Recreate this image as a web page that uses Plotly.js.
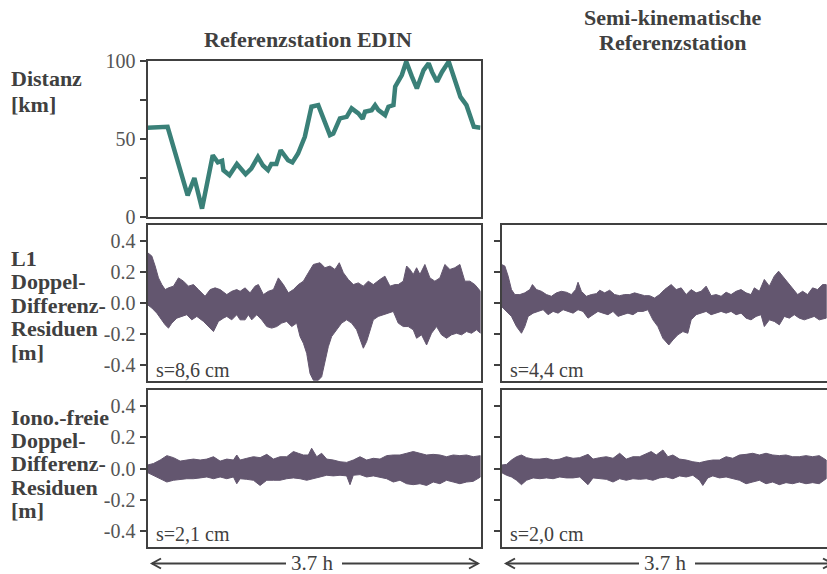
<!DOCTYPE html>
<html>
<head>
<meta charset="utf-8">
<script src="https://cdn.plot.ly/plotly-3.0.1.min.js"></script>
<style>html,body{margin:0;padding:0;background:#fff}#chart{width:827px;height:574px}</style>
</head>
<body>
<div id="chart"></div>
<script>
// ---------- DATA ----------
// Distance to reference station EDIN (time in hours, distance in km)
const distT  = [0,0.223,0.446,0.521,0.606,0.725,0.781,0.829,0.844,0.911,0.993,1.090,1.153,1.227,1.283,1.339,1.376,1.432,1.480,1.562,1.610,1.673,1.748,1.822,1.897,2.027,2.064,2.138,2.213,2.268,2.343,2.391,2.417,2.491,2.529,2.566,2.640,2.677,2.733,2.752,2.826,2.875,2.938,2.993,3.068,3.124,3.161,3.217,3.272,3.347,3.440,3.477,3.544,3.626,3.700];
const distKm = [57.2,57.8,13.9,25,5.4,39.6,35,36,30,26.8,34,27.4,31,38.5,33,30,34,34,42.8,36.4,35,40.7,51.4,70.7,71.7,52.5,53.5,63.2,64.2,69.6,66.4,63,67.5,68.5,71.7,68.5,65.3,70.7,71.7,83.5,91,99.6,90,82.4,94.2,98.5,93,86.7,93,99.6,83.5,77,71.7,57.8,57.2];

// L1 residuals, EDIN: upper and lower envelope (m)
const l1EdinUpT = [0,0.048,0.085,0.122,0.159,0.196,0.233,0.289,0.344,0.400,0.455,0.511,0.566,0.640,0.696,0.751,0.807,0.881,0.936,0.992,1.029,1.084,1.140,1.195,1.232,1.288,1.343,1.399,1.454,1.510,1.565,1.621,1.676,1.732,1.787,1.843,1.917,1.972,2.028,2.083,2.131,2.176,2.231,2.287,2.342,2.398,2.453,2.509,2.583,2.638,2.694,2.749,2.786,2.842,2.879,2.916,2.953,2.990,3.027,3.082,3.138,3.193,3.249,3.304,3.360,3.415,3.471,3.526,3.582,3.637,3.700];
const l1EdinUp  = [0.323,0.301,0.237,0.161,0.118,0.086,0.097,0.108,0.161,0.140,0.108,0.118,0.086,0.043,0.086,0.097,0.086,0.054,0.075,0.086,0.075,0.097,0.065,0.108,0.118,0.054,0.075,0.086,0.161,0.118,0.065,0.086,0.118,0.140,0.194,0.247,0.258,0.226,0.237,0.215,0.258,0.194,0.151,0.118,0.129,0.108,0.140,0.118,0.151,0.172,0.108,0.118,0.118,0.140,0.237,0.215,0.183,0.226,0.183,0.247,0.161,0.140,0.161,0.247,0.215,0.226,0.247,0.140,0.140,0.118,0.075];
const l1EdinLoT = [0,0.048,0.104,0.141,0.196,0.233,0.270,0.326,0.381,0.437,0.492,0.548,0.622,0.677,0.733,0.788,0.844,0.881,0.936,0.992,1.029,1.084,1.121,1.158,1.214,1.269,1.325,1.380,1.436,1.491,1.547,1.602,1.658,1.695,1.732,1.769,1.806,1.843,1.898,1.935,1.972,2.009,2.046,2.102,2.157,2.213,2.268,2.324,2.361,2.398,2.435,2.472,2.509,2.564,2.620,2.675,2.731,2.786,2.842,2.897,2.953,2.990,3.045,3.101,3.156,3.212,3.267,3.323,3.378,3.434,3.489,3.545,3.600,3.656,3.700];
const l1EdinLo  = [-0.011,-0.032,-0.065,-0.097,-0.140,-0.161,-0.129,-0.097,-0.086,-0.075,-0.108,-0.086,-0.118,-0.151,-0.183,-0.118,-0.097,-0.086,-0.108,-0.075,-0.108,-0.108,-0.075,-0.108,-0.075,-0.108,-0.151,-0.161,-0.151,-0.129,-0.118,-0.151,-0.129,-0.215,-0.258,-0.323,-0.452,-0.495,-0.495,-0.473,-0.387,-0.280,-0.215,-0.172,-0.129,-0.108,-0.129,-0.172,-0.237,-0.290,-0.247,-0.172,-0.108,-0.086,-0.075,-0.065,-0.054,-0.129,-0.151,-0.151,-0.172,-0.226,-0.204,-0.269,-0.194,-0.151,-0.204,-0.226,-0.204,-0.194,-0.204,-0.183,-0.194,-0.172,-0.194];

// L1 residuals, semi-kinematic reference station
const l1SemiUpT = [0,0.037,0.074,0.111,0.148,0.204,0.259,0.315,0.344,0.389,0.444,0.500,0.555,0.611,0.666,0.722,0.777,0.825,0.851,0.888,0.944,0.999,1.055,1.092,1.147,1.203,1.258,1.314,1.369,1.425,1.480,1.536,1.591,1.647,1.702,1.758,1.813,1.887,1.943,1.998,2.054,2.109,2.165,2.220,2.276,2.331,2.387,2.442,2.498,2.553,2.609,2.664,2.720,2.775,2.812,2.868,2.923,2.979,3.034,3.082,3.127,3.182,3.238,3.293,3.349,3.404,3.460,3.515,3.571,3.611];
const l1SemiUp  = [0.247,0.237,0.172,0.086,0.054,0.054,0.065,0.086,0.118,0.086,0.075,0.054,0.043,0.065,0.075,0.069,0.054,0.086,0.133,0.075,0.043,0.054,0.060,0.082,0.065,0.082,0.054,0.047,0.054,0.054,0.065,0.054,0.047,0.047,0.032,0.054,0.086,0.118,0.086,0.097,0.054,0.086,0.065,0.075,0.108,0.047,0.054,0.043,0.069,0.054,0.075,0.086,0.065,0.054,0.097,0.075,0.151,0.108,0.172,0.204,0.172,0.129,0.086,0.054,0.075,0.054,0.097,0.086,0.118,0.118];
const l1SemiLoT = [0,0.056,0.111,0.167,0.222,0.259,0.296,0.352,0.407,0.463,0.518,0.574,0.629,0.685,0.740,0.796,0.851,0.907,0.962,1.018,1.073,1.129,1.184,1.240,1.295,1.351,1.406,1.462,1.517,1.573,1.628,1.684,1.739,1.795,1.861,1.906,1.961,2.017,2.072,2.109,2.165,2.220,2.276,2.331,2.387,2.442,2.498,2.553,2.609,2.664,2.720,2.775,2.831,2.886,2.923,2.979,3.034,3.090,3.145,3.201,3.256,3.312,3.367,3.423,3.478,3.534,3.611];
const l1SemiLo  = [-0.022,-0.054,-0.086,-0.151,-0.194,-0.151,-0.086,-0.065,-0.054,-0.043,-0.075,-0.054,-0.065,-0.043,-0.054,-0.065,-0.043,-0.054,-0.097,-0.075,-0.054,-0.065,-0.075,-0.054,-0.086,-0.075,-0.065,-0.075,-0.054,-0.054,-0.043,-0.108,-0.151,-0.226,-0.269,-0.237,-0.204,-0.183,-0.194,-0.108,-0.075,-0.065,-0.054,-0.075,-0.065,-0.054,-0.065,-0.054,-0.075,-0.065,-0.097,-0.108,-0.086,-0.075,-0.151,-0.108,-0.118,-0.140,-0.086,-0.097,-0.075,-0.097,-0.108,-0.097,-0.086,-0.108,-0.097];

// Iono-free residuals, EDIN
const ifEdinUpT = [0,0.067,0.141,0.215,0.289,0.363,0.437,0.511,0.585,0.659,0.733,0.807,0.881,0.955,0.992,1.029,1.103,1.177,1.251,1.325,1.399,1.473,1.547,1.621,1.676,1.732,1.787,1.824,1.880,1.935,1.991,2.065,2.139,2.213,2.287,2.361,2.435,2.509,2.583,2.657,2.731,2.805,2.879,2.953,3.027,3.101,3.175,3.249,3.323,3.397,3.471,3.545,3.619,3.700];
const ifEdinUp  = [0.022,0.032,0.054,0.082,0.069,0.047,0.054,0.060,0.054,0.060,0.075,0.047,0.060,0.054,0.086,0.054,0.065,0.075,0.069,0.090,0.060,0.075,0.075,0.108,0.097,0.086,0.086,0.129,0.075,0.097,0.060,0.054,0.043,0.039,0.054,0.075,0.054,0.065,0.060,0.082,0.086,0.086,0.097,0.108,0.097,0.086,0.090,0.086,0.075,0.086,0.082,0.086,0.075,0.082];
const ifEdinLoT = [0,0.067,0.141,0.215,0.289,0.363,0.437,0.511,0.585,0.659,0.733,0.807,0.881,0.955,0.992,1.029,1.103,1.177,1.251,1.325,1.399,1.473,1.547,1.621,1.695,1.769,1.843,1.917,1.991,2.065,2.139,2.213,2.250,2.287,2.361,2.435,2.509,2.583,2.657,2.731,2.805,2.879,2.953,3.027,3.101,3.175,3.249,3.323,3.397,3.471,3.545,3.619,3.700];
const ifEdinLo  = [-0.026,-0.043,-0.065,-0.086,-0.075,-0.069,-0.065,-0.065,-0.060,-0.054,-0.065,-0.054,-0.065,-0.054,-0.097,-0.065,-0.069,-0.075,-0.108,-0.075,-0.075,-0.075,-0.065,-0.060,-0.065,-0.075,-0.065,-0.054,-0.043,-0.047,-0.043,-0.047,-0.103,-0.043,-0.039,-0.054,-0.047,-0.054,-0.065,-0.086,-0.075,-0.097,-0.103,-0.097,-0.108,-0.086,-0.097,-0.075,-0.086,-0.097,-0.086,-0.082,-0.054];

// Iono-free residuals, semi-kinematic reference station
const ifSemiUpT = [0,0.056,0.111,0.167,0.222,0.278,0.352,0.426,0.500,0.574,0.648,0.722,0.796,0.870,0.962,1.018,1.092,1.166,1.240,1.314,1.388,1.462,1.536,1.610,1.665,1.721,1.795,1.850,1.906,1.980,2.054,2.128,2.202,2.276,2.350,2.424,2.498,2.572,2.646,2.720,2.794,2.868,2.942,3.016,3.090,3.164,3.238,3.312,3.386,3.460,3.534,3.611];
const ifSemiUp  = [0.022,0.026,0.054,0.075,0.086,0.069,0.060,0.060,0.065,0.054,0.060,0.075,0.065,0.069,0.090,0.060,0.069,0.075,0.065,0.097,0.060,0.075,0.075,0.097,0.108,0.086,0.118,0.075,0.086,0.060,0.054,0.043,0.037,0.047,0.054,0.054,0.075,0.065,0.086,0.090,0.097,0.086,0.097,0.086,0.082,0.086,0.075,0.075,0.082,0.075,0.082,0.054];
const ifSemiLoT = [0,0.056,0.111,0.167,0.222,0.278,0.352,0.426,0.500,0.574,0.648,0.722,0.796,0.870,0.962,1.018,1.092,1.166,1.240,1.314,1.388,1.462,1.536,1.610,1.684,1.758,1.832,1.906,1.980,2.054,2.128,2.202,2.239,2.294,2.350,2.424,2.498,2.572,2.646,2.720,2.794,2.868,2.942,3.016,3.090,3.164,3.238,3.312,3.386,3.460,3.534,3.611];
const ifSemiLo  = [-0.026,-0.043,-0.054,-0.075,-0.103,-0.075,-0.060,-0.065,-0.060,-0.065,-0.054,-0.060,-0.060,-0.054,-0.103,-0.060,-0.065,-0.069,-0.086,-0.065,-0.075,-0.065,-0.069,-0.065,-0.075,-0.060,-0.054,-0.065,-0.047,-0.054,-0.043,-0.075,-0.108,-0.060,-0.047,-0.060,-0.054,-0.065,-0.075,-0.097,-0.086,-0.075,-0.097,-0.086,-0.103,-0.090,-0.097,-0.086,-0.097,-0.090,-0.097,-0.065];

const resTickVals = [-0.4,-0.2,0,0.2,0.4];
const resTickText = ['-0.4','-0.2','0.0','0.2','0.4'];
const distTickVals = [0,25,50,75,100];
const distTickText = ['0','','50','','100'];
const sigmaLabels = ['s=8,6 cm','s=4,4 cm','s=2,1 cm','s=2,0 cm'];
const durationLabel = '3.7 h';
const colTitleLeft = ['Referenzstation EDIN'];
const colTitleRight = ['Semi-kinematische', 'Referenzstation'];
const rowLabelDist = ['Distanz', '[km]'];
const rowLabelL1 = ['L1', 'Doppel-', 'Differenz-', 'Residuen', '[m]'];
const rowLabelIF = ['Iono.-freie', 'Doppel-', 'Differenz-', 'Residuen', '[m]'];

// ---------- STYLE / LAYOUT ----------
const W = 827, H = 574;
const px = v => v / W;
const py = v => 1 - v / H;
const FONT = '"Liberation Serif", "Times New Roman", Times, serif';
const DARK = '#404040';
const TEAL = '#3a8078';
const PURPLE = '#63566f';

function band(tu, yu, tl, yl, xa, ya) {
  return {
    x: tu.concat(tl.slice().reverse()),
    y: yu.concat(yl.slice().reverse()),
    xaxis: xa, yaxis: ya, type: 'scatter', mode: 'lines',
    fill: 'toself', fillcolor: PURPLE,
    line: {color: PURPLE, width: 1}, hoverinfo: 'skip'
  };
}

const traces = [
  {x: distT, y: distKm, xaxis: 'x', yaxis: 'y', type: 'scatter', mode: 'lines',
   line: {color: TEAL, width: 4.5}},
  band(l1EdinUpT, l1EdinUp, l1EdinLoT, l1EdinLo, 'x2', 'y2'),
  band(l1SemiUpT, l1SemiUp, l1SemiLoT, l1SemiLo, 'x3', 'y3'),
  band(ifEdinUpT, ifEdinUp, ifEdinLoT, ifEdinLo, 'x4', 'y4'),
  band(ifSemiUpT, ifSemiUp, ifSemiLoT, ifSemiLo, 'x5', 'y5')
];

const leftDom = [px(147.5), px(480.5)];
const rightDom = [px(501.5), 1];
const row1 = [py(217), py(61)];
const row2 = [py(381), py(225)];
const row3 = [py(547), py(390)];

function xax(dom, anchor, rng) {
  return {domain: dom, anchor: anchor, range: rng, showgrid: false, zeroline: false,
    showticklabels: false, ticks: '', showline: true, mirror: true,
    linecolor: DARK, linewidth: 2, fixedrange: true};
}
function yax(dom, anchor, rng, tv, tt, labels, mirror) {
  return {domain: dom, anchor: anchor, range: rng, showgrid: false, zeroline: false,
    tickmode: 'array', tickvals: tv, ticktext: tt, showticklabels: labels,
    ticks: 'outside', ticklen: 6, tickwidth: 2, tickcolor: DARK,
    tickfont: {family: FONT, size: 20, color: '#555555'},
    showline: true, mirror: mirror, linecolor: DARK, linewidth: 2, fixedrange: true};
}

const layout = {
  width: W, height: H,
  margin: {l: 0, r: 0, t: 0, b: 0},
  paper_bgcolor: '#ffffff', plot_bgcolor: '#ffffff',
  showlegend: false,
  font: {family: FONT, color: DARK},
  xaxis:  xax(leftDom, 'y', [0, 3.7]),
  yaxis:  yax(row1, 'x', [0, 100], distTickVals, distTickText, true, true),
  xaxis2: xax(leftDom, 'y2', [0, 3.7]),
  yaxis2: yax(row2, 'x2', [-0.5, 0.5], resTickVals, resTickText, true, true),
  xaxis3: xax(rightDom, 'y3', [0, 3.62]),
  yaxis3: yax(row2, 'x3', [-0.5, 0.5], resTickVals, resTickText, false, false),
  xaxis4: xax(leftDom, 'y4', [0, 3.7]),
  yaxis4: yax(row3, 'x4', [-0.5, 0.5], resTickVals, resTickText, true, true),
  xaxis5: xax(rightDom, 'y5', [0, 3.62]),
  yaxis5: yax(row3, 'x5', [-0.5, 0.5], resTickVals, resTickText, false, false),
  annotations: [],
  shapes: []
};

const A = layout.annotations;
const titleFont = {family: FONT, size: 22, color: DARK};
function lines(arr, x, ys, anchor) {
  arr.forEach((t, i) => A.push({xref: 'paper', yref: 'paper', x: px(x), y: py(ys[i]),
    xanchor: anchor, yanchor: 'middle', text: '<b>' + t + '</b>', showarrow: false, font: titleFont}));
}
lines(colTitleLeft, 308, [40], 'center');
lines(colTitleRight, 672, [18, 43], 'center');
lines(rowLabelDist, 9, [78, 104], 'left');
lines(rowLabelL1, 9, [258, 281.5, 305, 328.5, 352], 'left');
lines(rowLabelIF, 9, [417, 440, 463.5, 487, 510], 'left');

const sFont = {family: FONT, size: 20, color: DARK};
const sPos = [[154, 370], [508, 370], [154, 534], [508, 534]];
sigmaLabels.forEach((s, i) => {
  A.push({xref: 'paper', yref: 'paper', x: px(sPos[i][0]), y: py(sPos[i][1]), xanchor: 'left', yanchor: 'middle',
    text: s, showarrow: false, font: sFont});
});

// duration arrows
const arrowY = 563.5;
function arrow(x0, xt, x1) {
  A.push({xref: 'paper', yref: 'paper', x: px(xt), y: py(arrowY - 1), xanchor: 'center', yanchor: 'middle',
    text: durationLabel, showarrow: false, font: {family: FONT, size: 21, color: DARK}});
  const ln = {color: DARK, width: 2};
  layout.shapes.push({type: 'line', xref: 'paper', yref: 'paper', x0: px(x0), x1: px(xt - 26), y0: py(arrowY), y1: py(arrowY), line: ln});
  layout.shapes.push({type: 'line', xref: 'paper', yref: 'paper', x0: px(xt + 30), x1: px(x1), y0: py(arrowY), y1: py(arrowY), line: ln});
  layout.shapes.push({type: 'path', xref: 'paper', yref: 'paper',
    path: `M ${px(x0 + 9)} ${py(arrowY - 5)} L ${px(x0)} ${py(arrowY)} L ${px(x0 + 9)} ${py(arrowY + 5)}`, line: ln});
  layout.shapes.push({type: 'path', xref: 'paper', yref: 'paper',
    path: `M ${px(x1 - 9)} ${py(arrowY - 5)} L ${px(x1)} ${py(arrowY)} L ${px(x1 - 9)} ${py(arrowY + 5)}`, line: ln});
}
arrow(152, 312, 478);
arrow(506, 665, 832);

Plotly.newPlot('chart', traces, layout, {staticPlot: true, displayModeBar: false});
</script>
</body>
</html>
